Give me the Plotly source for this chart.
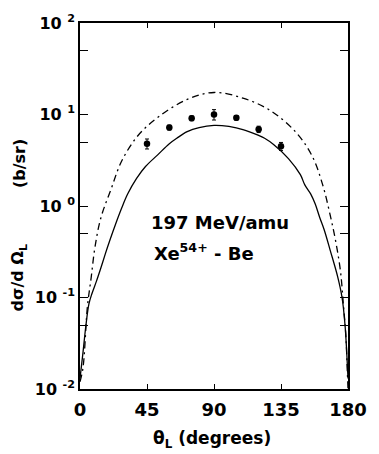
import plotly.graph_objects as go

# Lower theoretical curve (solid)
theta_solid = [0, 2, 4, 6, 8, 11, 14, 17, 20, 24, 28, 32, 38, 44, 52, 60, 65, 72, 80, 90,
               100, 110, 120, 124, 130, 140, 148, 151, 155, 158, 161, 164, 168, 173, 176, 178, 180]
sigma_solid = [0.013, 0.025, 0.05, 0.085, 0.11, 0.15, 0.21, 0.30, 0.42, 0.64, 0.95, 1.35, 2.0, 2.7,
               3.6, 4.8, 5.5, 6.5, 7.2, 7.6, 7.4, 6.8, 5.9, 5.5, 4.7, 3.3, 2.2, 1.7, 1.35, 1.05,
               0.75, 0.55, 0.33, 0.17, 0.10, 0.05, 0.013]

# Upper theoretical curve (dash-dot)
theta_dd = [0, 2, 5, 7.5, 10, 14, 21, 28, 39, 53, 72, 90, 110, 128, 145, 156, 163, 168,
            172, 175, 177, 178.5, 179.3, 180]
sigma_dd = [0.012, 0.017, 0.08, 0.165, 0.35, 0.74, 1.55, 3.1, 5.9, 9.5, 14.6, 17.4, 15.0, 11.0,
            6.4, 3.5, 1.7, 0.8, 0.39, 0.19, 0.08, 0.04, 0.02, 0.01]

# Measured cross sections
theta_exp = [45, 60, 75, 90, 105, 120, 135]
sigma_exp = [4.8, 7.2, 9.1, 10.0, 9.2, 6.9, 4.5]
err_exp = [0.6, 0.45, 0.55, 1.3, 0.55, 0.55, 0.45]

x_ticks = [0, 45, 90, 135, 180]
x_labels = ["<b>0</b>", "<b>45</b>", "<b>90</b>", "<b>135</b>", "<b>180</b>"]
y_ticks = [0.01, 0.05, 0.1, 0.5, 1, 5, 10, 50, 100]
y_labels = ["<b>10 <sup>-2</sup></b>", "", "<b>10 <sup>-1</sup></b>", "",
            "<b>10 <sup>0</sup></b>", "", "<b>10 <sup>1</sup></b>", "",
            "<b>10 <sup>2</sup></b>"]

FONT = "DejaVu Sans"

fig = go.Figure()
fig.add_trace(go.Scatter(x=theta_solid, y=sigma_solid, mode="lines",
                         line=dict(color="black", width=1.3), line_shape="spline",
                         showlegend=False))
fig.add_trace(go.Scatter(x=theta_dd, y=sigma_dd, mode="lines",
                         line=dict(color="black", width=1.3, dash="7px,4px,2px,4px"),
                         line_shape="spline", showlegend=False))
fig.add_trace(go.Scatter(x=theta_exp, y=sigma_exp, mode="markers",
                         marker=dict(color="black", size=6.5),
                         error_y=dict(type="data", array=err_exp, color="black",
                                      thickness=1, width=2),
                         showlegend=False))

axis_common = dict(showgrid=False, zeroline=False, showline=True, linecolor="black",
                   linewidth=1.5, mirror="ticks", ticks="inside", tickcolor="black",
                   tickwidth=1.2)

fig.update_xaxes(range=[0, 180], tickvals=x_ticks, ticktext=x_labels, ticklen=5,
                 tickfont=dict(family=FONT, size=18, color="black"),
                 ticklabelstandoff=4, **axis_common)
fig.update_yaxes(type="log", range=[-2, 2], tickvals=y_ticks, ticktext=y_labels, ticklen=8,
                 tickfont=dict(family=FONT, size=16, color="black"), **axis_common)

ann_font = dict(family=FONT, size=18, color="black")
fig.add_annotation(x=94, y=-0.185, xref="x", yref="y", text="<b>197 MeV/amu</b>",
                   showarrow=False, font=ann_font)
fig.add_annotation(x=83, y=-0.5, xref="x", yref="y",
                   text="<b>Xe<sup>54+</sup> - Be</b>", showarrow=False, font=ann_font)

# Axis titles
fig.add_annotation(x=(216 - 80) / 276, y=(389 - 440) / 368, xref="paper", yref="paper",
                   xanchor="center", yanchor="middle",
                   text="<b>θ<sub>L</sub> (degrees)</b>", showarrow=False,
                   font=dict(family=FONT, size=17, color="black"))
fig.add_annotation(x=(17 - 80) / 276, y=(389 - 277) / 368, xref="paper", yref="paper",
                   xanchor="center", yanchor="middle",
                   text="<b>dσ/d Ω<sub>L</sub></b>", textangle=-90, showarrow=False,
                   font=dict(family=FONT, size=16, color="black"))
fig.add_annotation(x=(17 - 80) / 276, y=(389 - 162) / 368, xref="paper", yref="paper",
                   xanchor="center", yanchor="middle",
                   text="<b>(b/sr)</b>", textangle=-90, showarrow=False,
                   font=dict(family=FONT, size=16, color="black"))

fig.update_layout(width=379, height=454, margin=dict(l=80, r=23, t=21, b=65),
                  paper_bgcolor="white", plot_bgcolor="white",
                  font=dict(family=FONT, color="black"))

fig.write_html("out.html")
